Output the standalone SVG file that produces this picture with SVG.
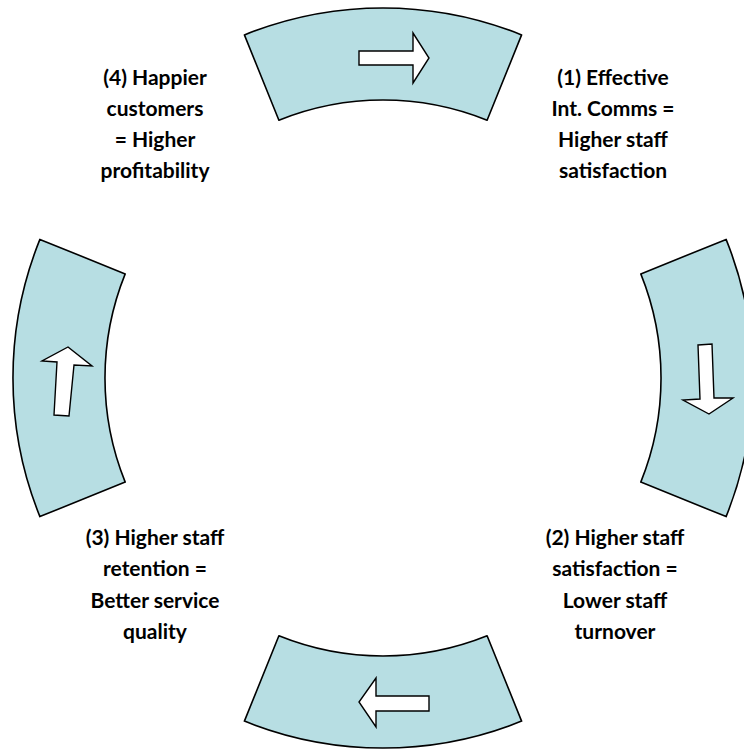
<svg xmlns="http://www.w3.org/2000/svg" width="744" height="749" viewBox="0 0 744 749">
<style>
.seg{fill:#B7DEE3;stroke:#000;stroke-width:1.6;stroke-linejoin:round}
.arr{fill:#fff;stroke:#000;stroke-width:1.4;stroke-linejoin:miter}
.lbl{font-family:Lato,"Open Sans","Liberation Sans",sans-serif;font-weight:bold;font-size:21px;fill:#000;text-anchor:middle}
</style>
<rect width="744" height="749" fill="#fff"/>
<g id="seg-top">
<path class="seg" d="M244.4,34.9 A370,370 0 0 1 521.6,34.9 L487.1,120.2 A278,278 0 0 0 278.9,120.2 Z"/>
<polygon class="arr" points="359,51 413,51 413,33 429,58 413,83 413,65 359,65"/>
</g>
<g id="seg-right">
<path class="seg" d="M726.1,239.4 A370,370 0 0 1 726.1,516.6 L640.8,482.1 A278,278 0 0 0 640.8,273.9 Z"/>
<polygon class="arr" points="698,345 712,344 714,398 733,398 709,414 683,400 700,399"/>
</g>
<g id="seg-bottom">
<path class="seg" d="M521.6,721.1 A370,370 0 0 1 244.4,721.1 L278.9,635.8 A278,278 0 0 0 487.1,635.8 Z"/>
<polygon class="arr" points="429,696 376,696 376,678 359,702 376,727 376,711 429,711"/>
</g>
<g id="seg-left">
<path class="seg" d="M39.9,516.6 A370,370 0 0 1 39.9,239.4 L125.2,273.9 A278,278 0 0 0 125.2,482.1 Z"/>
<polygon class="arr" points="68,347 92,366 74,365 69,416 54,415 57,362 42,361"/>
</g>
<g id="label-1">
<text class="lbl" x="613" y="85">(1) Effective</text>
<text class="lbl" x="613" y="116">Int. Comms =</text>
<text class="lbl" x="613" y="147">Higher staff</text>
<text class="lbl" x="613" y="178">satisfaction</text>
</g>
<g id="label-2">
<text class="lbl" x="615" y="545">(2) Higher staff</text>
<text class="lbl" x="615" y="576">satisfaction =</text>
<text class="lbl" x="615" y="608">Lower staff</text>
<text class="lbl" x="615" y="639">turnover</text>
</g>
<g id="label-3">
<text class="lbl" x="155" y="545">(3) Higher staff</text>
<text class="lbl" x="155" y="576">retention =</text>
<text class="lbl" x="155" y="608">Better service</text>
<text class="lbl" x="155" y="639">quality</text>
</g>
<g id="label-4">
<text class="lbl" x="155" y="85">(4) Happier</text>
<text class="lbl" x="155" y="116">customers</text>
<text class="lbl" x="155" y="147">= Higher</text>
<text class="lbl" x="155" y="178">profitability</text>
</g>
<g id="connectors"></g>
</svg>
